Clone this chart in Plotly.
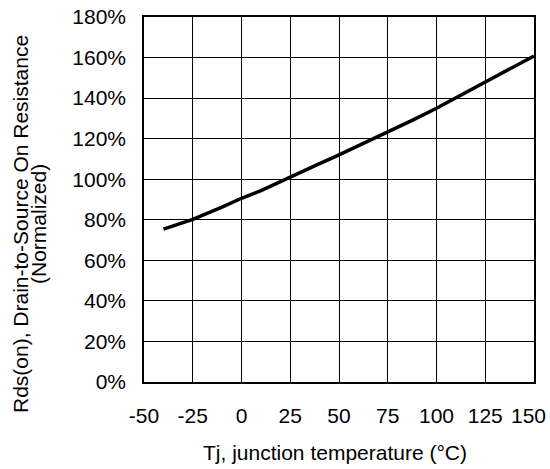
import plotly.graph_objects as go

# Data
temp_c = [-40, -25, -10, 0, 10, 25, 37.5, 50, 62.5, 75, 87.5, 100, 112.5, 125, 137.5, 150]
rds_norm_pct = [75.4, 80.2, 86.2, 90.6, 94.4, 101.2, 106.6, 112.0, 117.6, 123.5, 129.0, 135.0, 141.5, 148.0, 154.4, 160.8]

x_ticks = [-50, -25, 0, 25, 50, 75, 100, 125, 150]
x_tick_labels = ["-50", "-25", "0", "25", "50", "75", "100", "125", "150"]
y_ticks = [0, 20, 40, 60, 80, 100, 120, 140, 160, 180]

W, H = 550, 469
L, R, T, B = 144, 16, 17, 87
pw, ph = W - L - R, H - T - B
FONT = "Liberation Sans, Arial, sans-serif"
FS = 21

fig = go.Figure()
fig.add_trace(go.Scatter(x=temp_c, y=rds_norm_pct, mode="lines",
                         line=dict(color="black", width=3.5), showlegend=False,
                         hoverinfo="skip"))

axis_common = dict(showgrid=True, gridcolor="black", gridwidth=1.3,
                   showline=True, linecolor="black", linewidth=1.6, mirror=True,
                   zeroline=False, ticks="", ticklabeloverflow="allow", automargin=False,
                   tickfont=dict(family=FONT, size=FS, color="black"))

# last label is drawn separately so it stays inside the figure (as in the reference)
fig.update_xaxes(range=[-50, 150], tickvals=x_ticks,
                 ticktext=x_tick_labels[:-1] + [""],
                 ticklabelstandoff=14, **axis_common)
fig.update_yaxes(range=[0, 180], tickvals=y_ticks, ticktext=[f"{v}%" for v in y_ticks],
                 ticklabelstandoff=12, **axis_common)

fig.add_annotation(text=x_tick_labels[-1], x=x_ticks[-1], xref="x", y=0, yref="paper",
                   xanchor="right", yanchor="middle", xshift=14, yshift=-33,
                   showarrow=False, font=dict(family=FONT, size=FS, color="black"))

def px_x(p):
    return (p - L) / pw

def px_y(p):
    return 1 - (p - T) / ph

fig.add_annotation(text="Tj, junction temperature (°C)", xref="paper", yref="paper",
                   x=px_x(335), y=px_y(452), xanchor="center", yanchor="middle",
                   showarrow=False, font=dict(family=FONT, size=FS, color="black"))
fig.add_annotation(text="Rds(on), Drain-to-Source On Resistance", xref="paper", yref="paper",
                   x=px_x(20), y=px_y(224), xanchor="center", yanchor="middle", textangle=-90,
                   showarrow=False, font=dict(family=FONT, size=FS, color="black"))
fig.add_annotation(text="(Normalized)", xref="paper", yref="paper",
                   x=px_x(38), y=px_y(224), xanchor="center", yanchor="middle", textangle=-90,
                   showarrow=False, font=dict(family=FONT, size=FS, color="black"))

fig.update_layout(width=W, height=H, margin=dict(l=L, r=R, t=T, b=B),
                  paper_bgcolor="white", plot_bgcolor="white",
                  font=dict(family=FONT, size=FS, color="black"))

fig.write_html("out.html")
